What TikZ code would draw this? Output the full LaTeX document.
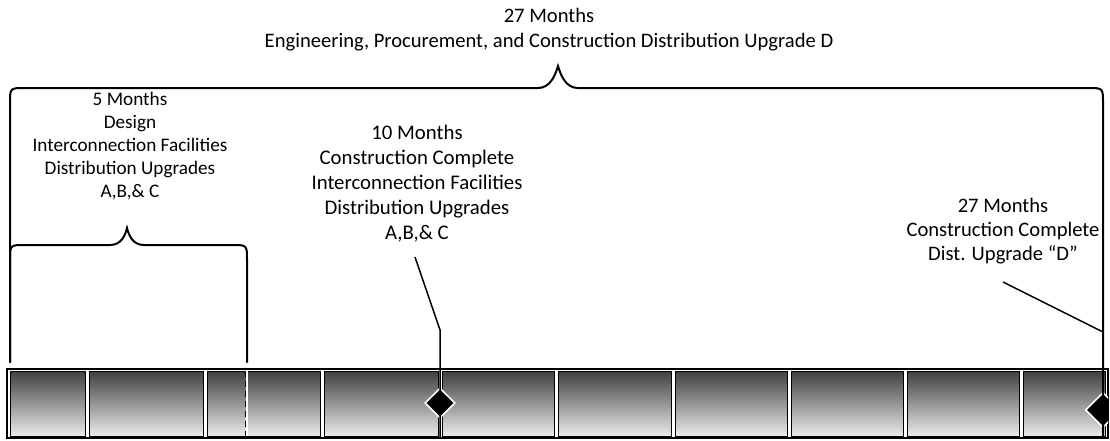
\documentclass[tikz,border=0pt]{standalone}
\usepackage{fontspec}
\setmainfont{Carlito}
\usetikzlibrary{shapes.geometric}
\begin{document}
\begin{tikzpicture}[x=0.5pt,y=-0.5pt,
    brace/.style={line width=1pt,line cap=round},
    pin/.style={line width=0.75pt},
    cell/.style={draw=black,line width=0.5pt,top color=black!75,bottom color=black!8},
    ms/.style={diamond,fill=black,draw=white,line width=0.8pt,inner sep=0pt,aspect=1},
    txt/.style={align=center,inner sep=0pt}]
  \useasboundingbox (0,0) rectangle (1110,440);
  % Timeline bar
  \draw[line width=0.6pt] (7,369) rectangle (1108,438);
  \foreach \a/\b in {8/87,87/205,205/322,322/440,440/556,556/673,673/789,789/905,905/1021,1021/1107}
    \draw[cell] ({\a+2},371) rectangle ({\b-2},436);
  \draw[white,line width=1pt] (247,371) -- (247,436);
  \draw[densely dashed,line width=0.3pt] (245.5,371) -- (245.5,436);
  % Milestones
  \begin{scope}
    \clip (7,369) rectangle (1108,438);
    \node[ms,minimum size=15pt] (msA) at (440,403) {};
    \node[ms,minimum size=17.5pt] (msD) at (1103,410) {};
  \end{scope}
  % Labels
  \node[txt,font=\fontsize{10.3}{12.5}\selectfont] (total) at (549,30)
    {27 Months\\Engineering, Procurement, and Construction Distribution Upgrade D};
  \node[txt,font=\fontsize{9.6}{11.4}\selectfont] (design) at (130,146)
    {5 Months\\Design\\Interconnection Facilities\\Distribution Upgrades\\A,B,\& C};
  \node[txt,font=\fontsize{10.4}{12.5}\selectfont] (ccif) at (417,184)
    {10 Months\\Construction Complete\\Interconnection Facilities\\Distribution Upgrades\\A,B,\& C};
  \node[txt,font=\fontsize{10.3}{12}\selectfont] (ccd) at (1003,231)
    {27 Months\\Construction Complete\\Dist. Upgrade “D”};
  % Big brace
  \draw[brace] (10,362) -- (10,103) .. controls (10,88) .. (25,88) -- (538,88)
    .. controls (550,88) and (555,76) .. (558,66)
    .. controls (561,76) and (566,88) .. (578,88) -- (1088,88)
    .. controls (1103,88) .. (1103,103) -- (1103,437);
  % Small brace
  \draw[brace] (10,362) -- (10,260) .. controls (10,245) .. (25,245) -- (110,245)
    .. controls (121,245) and (125,236) .. (127,228)
    .. controls (129,236) and (133,245) .. (144,245) -- (232,245)
    .. controls (247,245) .. (247,260) -- (247,362);
  % Pointers
  \coordinate (tipA) at (415,257);
  \coordinate (kneeA) at (440,330);
  \coordinate (tipD) at (1003,282);
  \coordinate (kneeD) at (1103,332);
  \draw[pin] (tipA) -- (kneeA) -- (msA.center) -- (msA.center |- 0,437);
  \draw[pin] (tipD) -- (kneeD);
\end{tikzpicture}
\end{document}
